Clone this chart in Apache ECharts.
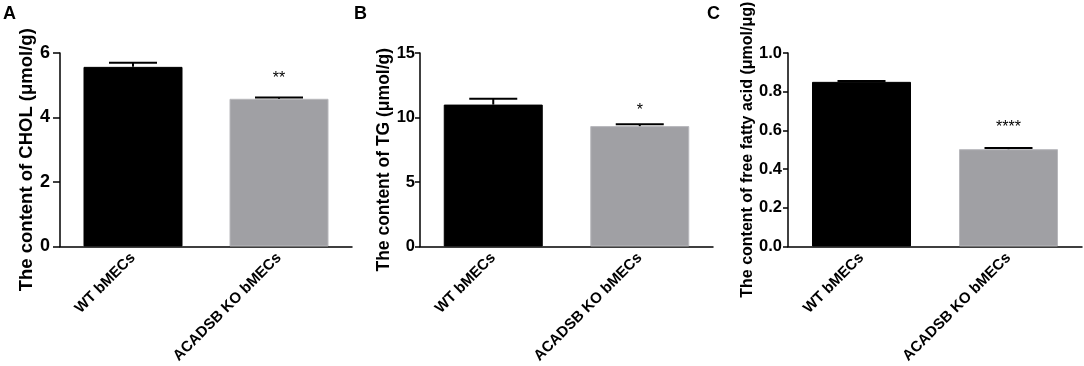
<!DOCTYPE html>
<html>
<head>
<meta charset="utf-8">
<script src="https://cdn.jsdelivr.net/npm/echarts@6/dist/echarts.min.js"></script>
<style>
  html, body { margin: 0; padding: 0; background: #fff; }
  #chart { width: 1084px; height: 366px; }
</style>
</head>
<body>
<div id="chart"></div>
<script>
// Groups on the x axis (same for all three panels)
const categories = ['WT bMECs', 'ACADSB KO bMECs'];

// Panel A: cholesterol
const cholMeans = [5.57, 4.58];
const cholErrors = [0.13, 0.04];
const cholStars = ['', '**'];

// Panel B: triglycerides
const tgMeans = [11.0, 9.33];
const tgErrors = [0.45, 0.14];
const tgStars = ['', '*'];

// Panel C: free fatty acid
const ffaMeans = [0.851, 0.503];
const ffaErrors = [0.005, 0.006];
const ffaStars = ['', '****'];

// Y tick range for each panel
const yTicksA = { min: 0, max: 6, interval: 2 };
const yTicksB = { min: 0, max: 15, interval: 5 };
const yTicksC = { min: 0, max: 1, interval: 0.2 };

const FONT = 'Arial, "Liberation Sans", sans-serif';
const barColors = ['#000000', '#a0a0a4'];
const barBorders = ['#000000', '#b8b8bc'];

// Panel layout (pixels) - each exported panel has slightly different text scaling
const panels = [
    { letter: 'A', letterX: 3, left: 60, width: 292, yName: 'The content of CHOL (μmol/g)', ticks: yTicksA,
      means: cholMeans, errors: cholErrors, stars: cholStars, starGap: 12,
      nameSize: 18.5, namePad: [0, 20, 0, 0], nameGap: 22, tickSize: 18, tickLen: 7, labelMargin: 10, decimals: 0 },
    { letter: 'B', letterX: 354, left: 420, width: 293, yName: 'The content of TG (μmol/g)', ticks: yTicksB,
      means: tgMeans, errors: tgErrors, stars: tgStars, starGap: 8,
      nameSize: 17.5, namePad: [0, 20, 0, 0], nameGap: 23, tickSize: 16.5, tickLen: 5, labelMargin: 5, decimals: 0 },
    { letter: 'C', letterX: 707, left: 788, width: 294, yName: 'The content of free fatty acid (μmol/μg)', ticks: yTicksC,
      means: ffaMeans, errors: ffaErrors, stars: ffaStars, starGap: 14,
      nameSize: 16, namePad: [0, 0, 0, 0], nameGap: 30, tickSize: 16.5, tickLen: 5, labelMargin: 6, decimals: 1 }
];

// only the upper half of the SD is drawn, like the original plot
function errorBarRenderer(params, api) {
    const idx = api.value(0);
    const mean = api.value(1);
    const err = api.value(2);
    const hi = api.coord([idx, mean + err]);
    const base = api.coord([idx, mean]);
    const half = 24;
    const style = { stroke: '#000', lineWidth: 2 };
    return {
        type: 'group',
        children: [
            { type: 'line', shape: { x1: hi[0], y1: hi[1], x2: base[0], y2: base[1] }, style: style },
            { type: 'line', shape: { x1: hi[0] - half, y1: hi[1], x2: hi[0] + half, y2: hi[1] }, style: style }
        ]
    };
}

const grids = [], xAxes = [], yAxes = [], series = [], titles = [];

panels.forEach((p, i) => {
    grids.push({ left: p.left, width: p.width, top: 53, height: 194 });
    titles.push({
        text: p.letter, left: p.letterX, top: 5, padding: 0,
        textStyle: { fontFamily: FONT, fontSize: 18, fontWeight: 'bold', color: '#000' }
    });
    xAxes.push({
        type: 'category', gridIndex: i, data: categories,
        axisLine: { lineStyle: { color: '#000', width: 1.5 } },
        axisTick: { alignWithLabel: true, length: p.tickLen, lineStyle: { color: '#000', width: 1.5 } },
        axisLabel: { interval: 0, rotate: 45, margin: 9, color: '#000', fontFamily: FONT, fontSize: 15, fontWeight: 'bold' }
    });
    yAxes.push({
        type: 'value', gridIndex: i,
        min: p.ticks.min, max: p.ticks.max, interval: p.ticks.interval,
        name: p.yName, nameLocation: 'middle', nameGap: p.nameGap, nameRotate: 90,
        nameTextStyle: { fontFamily: FONT, fontSize: p.nameSize, fontWeight: 'bold', color: '#000', padding: p.namePad },
        axisLine: { show: true, lineStyle: { color: '#000', width: 1.5 } },
        axisTick: { show: true, length: p.tickLen, lineStyle: { color: '#000', width: 1.5 } },
        axisLabel: {
            margin: p.labelMargin, color: '#000', fontFamily: FONT, fontSize: p.tickSize, fontWeight: 'bold',
            formatter: v => v.toFixed(p.decimals)
        },
        splitLine: { show: false }
    });
    series.push({
        type: 'bar', xAxisIndex: i, yAxisIndex: i, barWidth: 99,
        data: p.means.map((m, k) => ({
            value: m,
            itemStyle: { color: barColors[k], borderColor: barBorders[k], borderWidth: 1 },
            label: {
                show: p.stars[k] !== '', position: 'top', distance: p.starGap,
                formatter: p.stars[k], fontFamily: FONT, fontSize: 16, color: '#000'
            }
        }))
    });
    series.push({
        type: 'custom', xAxisIndex: i, yAxisIndex: i, z: 5,
        renderItem: errorBarRenderer,
        encode: { x: 0, y: 1 },
        data: p.means.map((m, k) => [k, m, p.errors[k]])
    });
});

const chart = echarts.init(document.getElementById('chart'));
chart.setOption({
    animation: false,
    backgroundColor: '#fff',
    title: titles,
    grid: grids,
    xAxis: xAxes,
    yAxis: yAxes,
    series: series
});
</script>
</body>
</html>
